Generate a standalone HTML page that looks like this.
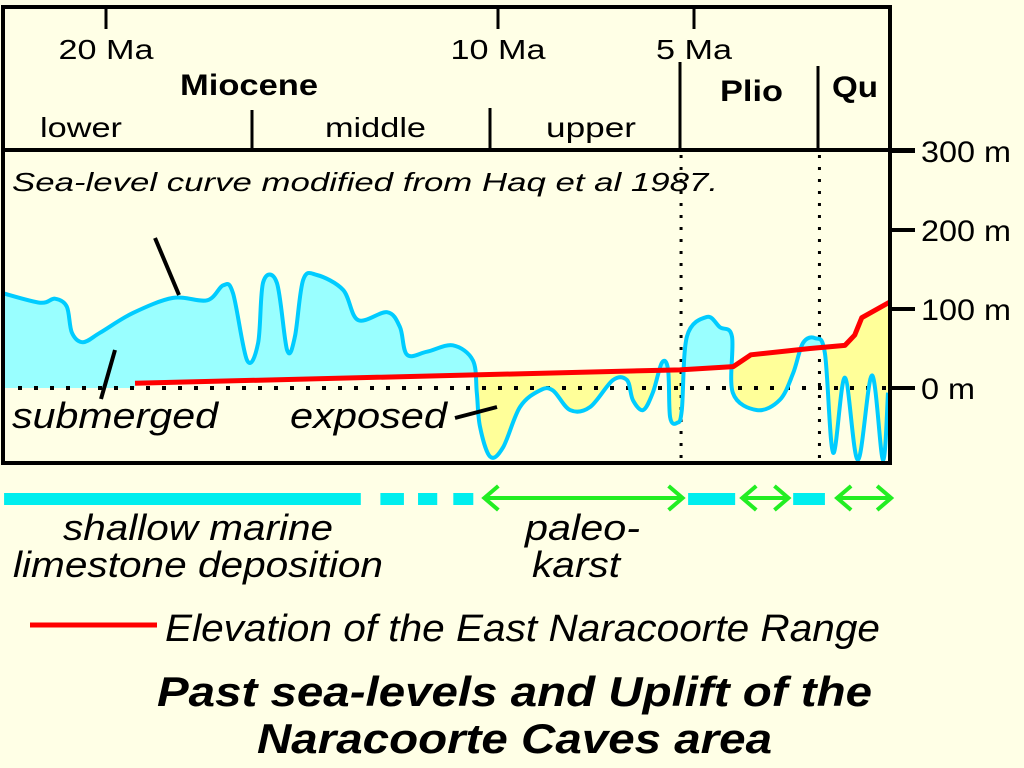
<!DOCTYPE html>
<html><head><meta charset="utf-8"><style>
html,body{margin:0;padding:0;background:#ffffe6;}
svg{display:block;font-family:"Liberation Sans",Arial,sans-serif;}
</style></head><body>
<svg id="chart" width="1024" height="768" viewBox="0 0 1024 768">
<rect x="0" y="0" width="1024" height="768" fill="#ffffe6"/>
<g id="plot"></g>
<g stroke="#000" fill="none">
  <rect x="3" y="7" width="887" height="456" stroke-width="4"/>
  <line x1="3" y1="150" x2="915" y2="150" stroke-width="4"/>
  <line x1="252" y1="110" x2="252" y2="150" stroke-width="3"/>
  <line x1="490" y1="108" x2="490" y2="150" stroke-width="3"/>
  <line x1="680" y1="62" x2="680" y2="150" stroke-width="3"/>
  <line x1="818" y1="66" x2="818" y2="150" stroke-width="3"/>
</g>
<g id="axes"></g>
<g font-size="28" fill="#000" lengthAdjust="spacingAndGlyphs">
  <text x="180" y="95" font-weight="bold" font-size="30" textLength="138" lengthAdjust="spacingAndGlyphs">Miocene</text>
  <text x="720" y="101" font-weight="bold" font-size="30" textLength="63" lengthAdjust="spacingAndGlyphs">Plio</text>
  <text x="832" y="97" font-weight="bold" font-size="30" textLength="46" lengthAdjust="spacingAndGlyphs">Qu</text>
  <text x="40" y="137" textLength="82" lengthAdjust="spacingAndGlyphs">lower</text>
  <text x="325" y="137" textLength="101" lengthAdjust="spacingAndGlyphs">middle</text>
  <text x="546" y="137" textLength="90" lengthAdjust="spacingAndGlyphs">upper</text>
</g>
<text x="12" y="191" font-size="26" font-style="italic" textLength="706" lengthAdjust="spacingAndGlyphs">Sea-level curve modified from Haq et al 1987.</text>
<line x1="155" y1="238" x2="179" y2="295" stroke="#000" stroke-width="4"/>
<line x1="115" y1="350" x2="101" y2="399" stroke="#000" stroke-width="4"/>
<line x1="455" y1="418" x2="497" y2="407" stroke="#000" stroke-width="4"/>
<text x="12" y="428" font-size="36" font-style="italic" textLength="206" lengthAdjust="spacingAndGlyphs">submerged</text>
<text x="290" y="428" font-size="36" font-style="italic" textLength="157" lengthAdjust="spacingAndGlyphs">exposed</text>
<g id="bars"></g>
<g font-size="36" font-style="italic">
  <text x="63" y="540" textLength="270" lengthAdjust="spacingAndGlyphs">shallow marine</text>
  <text x="13" y="577" textLength="370" lengthAdjust="spacingAndGlyphs">limestone deposition</text>
  <text x="525" y="540" textLength="115" lengthAdjust="spacingAndGlyphs">paleo-</text>
  <text x="532" y="577" textLength="88" lengthAdjust="spacingAndGlyphs">karst</text>
</g>
<line x1="30" y1="625" x2="157" y2="625" stroke="#ff0000" stroke-width="5"/>
<text x="165" y="641" font-size="38" font-style="italic" textLength="715" lengthAdjust="spacingAndGlyphs">Elevation of the East Naracoorte Range</text>
<g font-size="42" font-weight="bold" font-style="italic">
  <text x="157" y="706" textLength="715" lengthAdjust="spacingAndGlyphs">Past sea-levels and Uplift of the</text>
  <text x="257" y="753" textLength="515" lengthAdjust="spacingAndGlyphs">Naracoorte Caves area</text>
</g>
</svg>
<script>
const seaAges=[22.63,21.68,21.3,21.0,20.87,20.59,20.15,19.31,18.29,17.42,17.01,16.76,16.4,16.12,15.99,15.64,15.38,15.18,14.97,14.62,13.95,13.57,12.83,12.5,12.32,11.81,11.15,10.64,10.54,10.46,10.2,9.87,9.44,8.93,8.6,8.16,7.65,7.07,6.71,6.56,6.3,6.05,5.82,5.66,5.61,5.43,5.31,5.18,4.67,4.34,4.03,4.01,3.39,2.81,2.47,2.22,1.91,1.66,1.45,1.15,0.82,0.46,0.18,0.05];
const seaLevels=[120,108,113,103,70,58,70,95,114,111,130,120,35,57,134,133,48,65,137,143,124,86,96,77,42,46,54,35,-6,-49,-87,-75,-24,-3,-3,-28,-24,10,10,-15,-28,-6,32,23,-37,-44,-28,65,90,77,65,-6,-28,-15,19,57,63,44,-82,13,-91,16,-91,-6];
const rangeAges=[19.26,5.36,4.0,3.55,2.04,1.15,0.9,0.72,0.0];
const rangeElev=[6,23,27,42,50,54,67,89,109];
const ageTicks=[20,10,5];
const ageTickLabels=["20 Ma","10 Ma","5 Ma"];
const elevTicks=[300,200,100,0];
const elevTickLabels=["300 m","200 m","100 m","0 m"];
const boundaryAges=[5.33,1.8];
const envBarsStart=[22.6,13.0,12.04,11.14,5.15,2.47];
const envBarsEnd=[13.5,12.4,11.55,10.63,3.95,1.66];
const arrowStart=[10.4,3.82,1.4];
const arrowEnd=[5.24,2.54,-0.08];

const NS="http://www.w3.org/2000/svg";
const xS=a=>890-a*39.2;
const yS=m=>388-m*0.79;
function mk(tag,attrs,parent){const e=document.createElementNS(NS,tag);for(const k in attrs)e.setAttribute(k,attrs[k]);parent.appendChild(e);return e;}
function smooth(pts){let d="M"+pts[0][0]+","+pts[0][1];for(let i=0;i<pts.length-1;i++){const p0=pts[i-1]||pts[i],p1=pts[i],p2=pts[i+1],p3=pts[i+2]||p2;const c1=[p1[0]+(p2[0]-p0[0])/6,p1[1]+(p2[1]-p0[1])/6],c2=[p2[0]-(p3[0]-p1[0])/6,p2[1]-(p3[1]-p1[1])/6];d+=" C"+c1[0].toFixed(1)+","+c1[1].toFixed(1)+" "+c2[0].toFixed(1)+","+c2[1].toFixed(1)+" "+p2[0].toFixed(1)+","+p2[1].toFixed(1);}return d;}
const plot=document.getElementById("plot");
const seaPts=seaAges.map((a,i)=>[xS(a),yS(seaLevels[i])]);
const curveD=smooth(seaPts);
const first=seaPts[0],last=seaPts[seaPts.length-1];
const rangePts=rangeAges.map((a,i)=>[xS(a),yS(rangeElev[i])]);
let base="M3,"+yS(0)+" L"+rangePts[0][0]+","+yS(0)+" "+rangePts.map(p=>"L"+p[0]+","+p[1]).join(" ");
const defs=mk("defs",{},plot);
const cAbove=mk("clipPath",{id:"above"},defs);
mk("path",{d:base+" L890,9 L3,9 Z"},cAbove);
const cBelow=mk("clipPath",{id:"below"},defs);
mk("path",{d:base+" L890,461 L3,461 Z"},cBelow);
const under=curveD+" L"+last[0]+",461 L3,461 L3,"+first[1]+" Z";
const over=curveD+" L"+last[0]+",9 L3,9 L3,"+first[1]+" Z";
const cf=mk("path",{d:under,fill:"#99ffff","clip-path":"url(#above)"},plot);


const yf=mk("path",{d:over,fill:"#ffff99","clip-path":"url(#below)"},plot);


const zl=mk("line",{x1:18,y1:yS(0),x2:890,y2:yS(0),stroke:"#000","stroke-width":4,"stroke-dasharray":"4 12"},plot);


boundaryAges.forEach(a=>{const l=mk("line",{x1:xS(a),y1:155,x2:xS(a),y2:462,stroke:"#000","stroke-width":3,"stroke-dasharray":"3 9"},plot);

});
const sc=mk("path",{d:curveD,fill:"none",stroke:"#00ccff","stroke-width":4},plot);


const rl=mk("polyline",{points:rangePts.map(p=>p.join(",")).join(" "),fill:"none",stroke:"#ff0000","stroke-width":5,"stroke-linejoin":"round"},plot);


const axes=document.getElementById("axes");
ageTicks.forEach((a,i)=>{mk("line",{x1:xS(a),y1:7,x2:xS(a),y2:29,stroke:"#000","stroke-width":3},axes);
const w=ageTickLabels[i].length*19;
const t=mk("text",{x:xS(a),y:59,"font-size":28,"text-anchor":"middle",textLength:w,lengthAdjust:"spacingAndGlyphs"},axes);t.textContent=ageTickLabels[i];

});
elevTicks.forEach((m,i)=>{mk("line",{x1:890,y1:yS(m),x2:915,y2:yS(m),stroke:"#000","stroke-width":4},axes);
const w=elevTickLabels[i].length*18;
const t=mk("text",{x:921,y:yS(m)+11,"font-size":30,textLength:w,lengthAdjust:"spacingAndGlyphs"},axes);t.textContent=elevTickLabels[i];

});
const bars=document.getElementById("bars");
envBarsStart.forEach((s,i)=>{const r=mk("rect",{x:xS(s),y:493,width:xS(envBarsEnd[i])-xS(s),height:12,fill:"#00eeee"},bars);

});
arrowStart.forEach((s,i)=>{const x1=xS(s)+2,x2=xS(arrowEnd[i])-2,y=498;
const g=mk("path",{d:`M${x1},${y} L${x2},${y} M${x1+14},${y-12} L${x1},${y} L${x1+14},${y+12} M${x2-14},${y-12} L${x2},${y} L${x2-14},${y+12}`,fill:"none",stroke:"#22ee22","stroke-width":4},bars);

});
</script>
</body></html>
